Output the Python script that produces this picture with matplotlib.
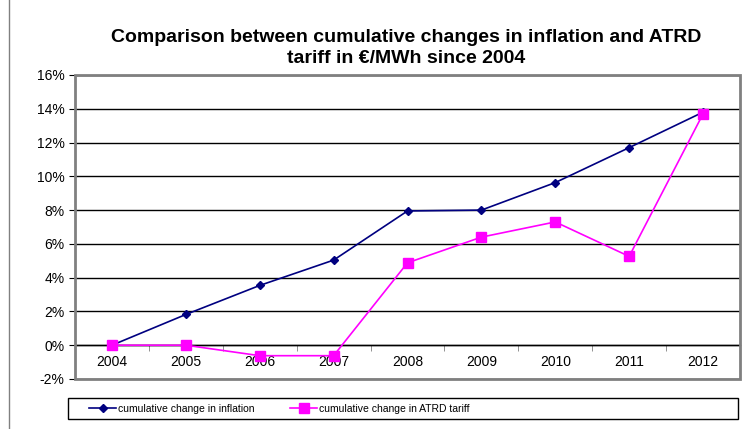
import numpy as np
import matplotlib
matplotlib.use("Agg")
import matplotlib.pyplot as plt
from matplotlib.lines import Line2D
from matplotlib.patches import Rectangle
from matplotlib.ticker import FuncFormatter

plt.rcParams["font.family"] = ["Liberation Sans", "DejaVu Sans"]

# -- data ----------------------------------------------------------
years = ["2004", "2005", "2006", "2007", "2008", "2009", "2010", "2011", "2012"]
inflation = [0.0, 1.82, 3.54, 5.04, 7.95, 8.0, 9.63, 11.7, 13.8]
atrd = [0.0, 0.0, -0.62, -0.62, 4.88, 6.4, 7.3, 5.26, 13.7]

NAVY = "#000080"
MAGENTA = "#ff00ff"

fig = plt.figure(figsize=(7.53, 4.29), dpi=100)
ax = fig.add_axes([75 / 753, 1 - 379 / 429, 665 / 753, 304 / 429])

x = np.arange(len(years))
ax.plot(x, inflation, color=NAVY, lw=1.2, marker="D", ms=4.5,
        label="cumulative change in inflation", zorder=3)
ax.plot(x, atrd, color=MAGENTA, lw=1.2, marker="s", ms=6.5,
        label="cumulative change in ATRD tariff", zorder=3)

ax.set_xlim(-0.5, len(years) - 0.5)
ax.set_ylim(-2, 16)
ax.set_yticks(np.arange(-2, 17, 2))
ax.yaxis.set_major_formatter(FuncFormatter(lambda v, p: f"{v:.0f}%"))
ax.yaxis.grid(True, color="black", lw=1)
ax.set_axisbelow(True)

# category axis sits on the 0% line
ax.spines["bottom"].set_position(("data", 0))
ax.spines["bottom"].set_color("black")
ax.spines["bottom"].set_linewidth(1)
for s in ["top", "right", "left"]:
    ax.spines[s].set_visible(False)
ax.add_patch(Rectangle((0, 0), 1, 1, transform=ax.transAxes, fill=False,
                       edgecolor="#808080", lw=2, zorder=4, clip_on=False))

ax.set_xticks(x)
ax.set_xticklabels(years)
ax.set_xticks(np.arange(-0.5, len(years), 1), minor=True)
ax.tick_params(axis="x", which="major", length=0, pad=7, labelsize=10)
ax.tick_params(axis="x", which="minor", length=4, direction="out", color="#808080")
ax.tick_params(axis="y", length=4, direction="out", color="black", labelsize=10)

fig.text(0.54, 0.888, "Comparison between cumulative changes in inflation and ATRD\n"
         "tariff in €/MWh since 2004", ha="center", va="center",
         fontsize=14, fontweight="bold", linespacing=1.25)

# legend box at the bottom
fig.add_artist(Rectangle((68 / 753, 1 - 419 / 429), 670 / 753, 21 / 429,
                         transform=fig.transFigure, fill=False,
                         edgecolor="black", lw=1))
fig.legend(loc="center left", bbox_to_anchor=(84 / 753, 1 - 408.5 / 429),
           ncol=2, frameon=False, fontsize=7.5, handlelength=2.6,
           handletextpad=0.2, columnspacing=3.4, borderpad=0)

# outer border line at the left edge
fig.add_artist(Line2D([9 / 753, 9 / 753], [0, 1], transform=fig.transFigure,
                      color="#808080", lw=1))

plt.savefig("out.png", dpi=100)
plt.close()
